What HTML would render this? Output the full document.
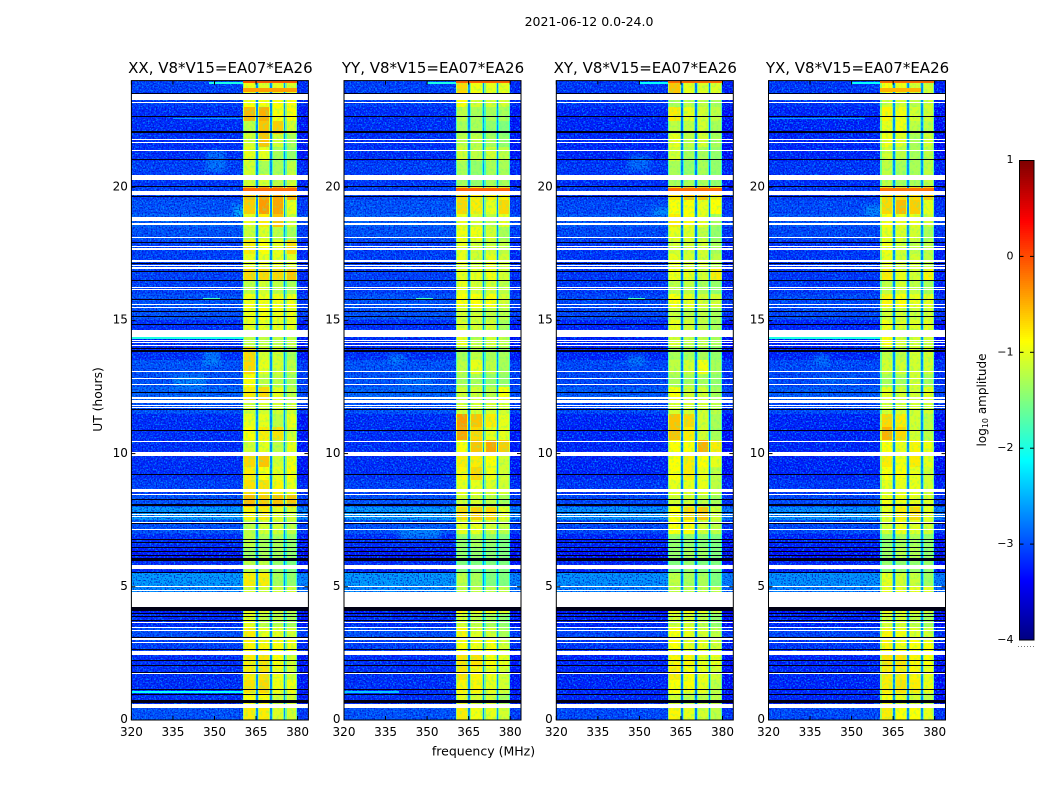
<!DOCTYPE html>
<html>
<head>
<meta charset="utf-8">
<title>2021-06-12 dynamic spectra</title>
<style>
html,body{margin:0;padding:0;background:#fff;}
svg{display:block;}
text{font-family:"DejaVu Sans","Liberation Sans",sans-serif;fill:#000;}
</style>
</head>
<body>
<svg id="chart" xmlns="http://www.w3.org/2000/svg" width="1050" height="800" viewBox="0 0 1050 800">
<defs>
<filter id="speck-light" x="0" y="0" width="1" height="1" color-interpolation-filters="sRGB">
<feTurbulence type="fractalNoise" baseFrequency="0.62" numOctaves="1" seed="7"/>
<feColorMatrix type="matrix" values="0 0 0 0 0  0 0 0 0 0.65  0 0 0 0 1  5 0 0 0 -2.4"/>
</filter>
<filter id="speck-dark" x="0" y="0" width="1" height="1" color-interpolation-filters="sRGB">
<feTurbulence type="fractalNoise" baseFrequency="0.66" numOctaves="1" seed="23"/>
<feColorMatrix type="matrix" values="0 0 0 0 0  0 0 0 0 0.02  0 0 0 0 0.75  5 0 0 0 -2.5"/>
</filter>
<filter id="speck-green" x="0" y="0" width="1" height="1" color-interpolation-filters="sRGB">
<feTurbulence type="fractalNoise" baseFrequency="0.35" numOctaves="2" seed="41"/>
<feColorMatrix type="matrix" values="0 0 0 0 0.3  0 0 0 0 1  0 0 0 0 0.6  5 0 0 0 -2.5"/>
</filter>
<filter id="soft-patch" x="-50%" y="-100%" width="200%" height="300%">
<feGaussianBlur stdDeviation="2.5"/>
</filter>
</defs>
<text x="589" y="26" font-size="12.5" text-anchor="middle">2021-06-12 0.0-24.0</text>
<text x="483.5" y="755.5" font-size="12.5" text-anchor="middle">frequency (MHz)</text>
<text transform="translate(102,399.5) rotate(-90)" font-size="12.3" text-anchor="middle">UT (hours)</text>
<text transform="translate(986,400) rotate(-90)" font-size="12" text-anchor="middle">log<tspan font-size="8" dy="2">10</tspan><tspan dy="-2"> amplitude</tspan></text>
</svg>
<script>
// Panels and axes
const panelTitles = ["XX, V8*V15=EA07*EA26","YY, V8*V15=EA07*EA26","XY, V8*V15=EA07*EA26","YX, V8*V15=EA07*EA26"];
const freqTicks = [320,335,350,365,380];
const hourTicks = [0,5,10,15,20];
const colorbarTicks = [1,0,-1,-2,-3,-4];
// Frequency ranges (MHz) of the four bright sub-bands, channel gaps between them, and the background regions
const subBands = [[360.4,364.9],[365.6,370.1],[370.7,375.1],[375.6,379.9]];
const bandGaps = [[364.9,365.6],[370.1,370.7],[375.1,375.6]];
const backgroundFreq = [[320,360.4],[379.9,383.9]];
const gapLevel = [-2.7,-2.7,-2.8,-2.7];
const shoulderDrop = -0.55;
const shoulderWidth = 0.4;
const bandOffset = -0.08;
const edgeOffset = -0.12;
// Half-hour rows, from 24 h down to 0 h: background level (log10 amplitude)
const backgroundRows = [-3.1,-3.1,-3.2,-3.2,-3.2,-3.2,-3.1,-3.15,-3.1,-3.0,-2.9,-3.0,-3.1,-3.1,-3.1,-3.1,-3.0,-3.0,-3.2,-3.2,-3.2,-3.0,-3.0,-2.9,-3.0,-3.2,-3.2,-3.2,-3.2,-3.2,-3.1,-3.0,-2.6,-3.0,-3.2,-3.3,-3.2,-2.6,-2.7,-3.3,-3.2,-3.0,-3.1,-3.2,-3.2,-3.2,-3.2,-3.0];
const panelBackgroundOffset = [0,0,-0.05,-0.05];
// Half-hour rows: level in each of the four sub-bands
const bandXX = [[-0.85,-0.95,-0.9,-0.95],[-0.8,-0.8,-0.8,-0.8],[-0.45,-0.4,-0.8,-0.8],[-1.1,-0.5,-0.55,-1.0],[-1.0,-0.5,-1,-1.2],[-0.9,-0.9,-1.2,-1.3],[-1,-1.2,-1.2,-1.1],[-1,-1,-1.1,-1],[-0.5,-0.35,-0.35,-0.4],[-0.55,-0.3,-0.35,-0.9],[-0.9,-0.7,-0.5,-1],[-1.05,-0.95,-1.1,-1.2],[-0.7,-0.8,-0.9,-0.6],[-0.9,-0.9,-0.9,-0.95],[-0.6,-0.6,-0.6,-0.5],[-1.1,-1,-1.1,-1.2],[-0.85,-0.85,-0.85,-0.85],[-0.85,-0.8,-0.85,-0.85],[-0.9,-0.9,-0.9,-0.9],[-1.1,-1.1,-1.1,-1.1],[-0.6,-1,-1,-1.2],[-0.6,-0.9,-1,-1.1],[-0.8,-1.1,-1.1,-1.2],[-0.7,-0.6,-0.9,-1.1],[-1,-1,-1,-1],[-0.9,-0.9,-1.1,-0.9],[-0.8,-0.7,-0.65,-1],[-1,-0.9,-1.1,-0.9],[-0.6,-0.5,-1,-0.85],[-0.7,-0.8,-0.9,-0.8],[-0.65,-0.65,-0.75,-0.9],[-0.45,-0.55,-0.5,-0.5],[-0.75,-0.7,-0.9,-1],[-1.1,-1,-1,-1.1],[-1.1,-1.2,-1.2,-1.3],[-1.25,-1.2,-1.2,-1.3],[-1.1,-1.1,-1.3,-1.4],[-0.7,-0.7,-1.2,-1.3],[-1,-1,-1,-1],[-0.9,-0.9,-1,-1.1],[-0.9,-1.1,-1.1,-1.2],[-0.7,-0.9,-0.9,-1],[-0.75,-0.75,-0.8,-0.85],[-0.7,-0.65,-0.8,-1],[-0.7,-0.65,-0.85,-1],[-0.65,-0.6,-0.85,-0.85],[-0.8,-0.8,-1,-1],[-0.7,-0.7,-0.95,-1]];
const bandYY = [[-0.6,-0.85,-0.9,-0.9],[-0.8,-1,-1,-1],[-1.1,-1.2,-1.2,-1.2],[-1.2,-1.2,-1.3,-1.4],[-1.1,-1.1,-1.2,-1.3],[-1.0,-1.1,-1,-1.1],[-1.2,-1.3,-1.2,-1.2],[-1.2,-1.3,-1.2,-1.2],[-0.6,-0.7,-0.7,-0.7],[-0.6,-0.7,-0.9,-0.6],[-0.9,-1,-1.1,-0.9],[-0.85,-0.85,-1,-1.2],[-0.9,-1,-1,-1.1],[-0.9,-1,-0.9,-1],[-0.9,-0.9,-0.85,-1],[-0.9,-1,-1,-1.1],[-0.8,-0.8,-0.8,-1],[-1,-1,-1.1,-1.1],[-0.95,-1,-1,-1.2],[-0.9,-1.1,-1,-1.1],[-1.2,-1.1,-1.2,-1.2],[-1.1,-0.9,-1.1,-1.2],[-1.2,-1.2,-1.3,-1.3],[-1,-1,-1.1,-0.8],[-1,-1,-1,-1],[-0.3,-0.5,-0.7,-0.9],[-0.35,-0.6,-0.9,-0.9],[-0.8,-0.5,-0.35,-0.55],[-0.7,-0.7,-0.8,-1],[-0.75,-0.6,-0.85,-1],[-0.9,-0.9,-0.95,-1],[-1,-1,-1.1,-1.2],[-0.6,-0.55,-0.6,-0.9],[-0.9,-0.9,-1,-1.1],[-1.3,-1.2,-1.3,-1.4],[-1.3,-1.3,-1.35,-1.4],[-1.4,-1.4,-1.4,-1.4],[-1.1,-1.2,-1.4,-1.4],[-1.1,-1.1,-1.1,-1.1],[-0.75,-0.85,-0.85,-0.9],[-1,-1.1,-1.2,-1.3],[-0.75,-0.95,-1,-1.2],[-0.8,-0.85,-0.8,-1],[-0.65,-0.65,-0.8,-0.9],[-0.65,-0.75,-0.85,-1],[-0.75,-0.75,-0.9,-1],[-0.9,-1,-1,-1.2],[-0.7,-0.85,-0.9,-1]];
const bandXY = [[-0.5,-0.9,-0.95,-0.95],[-1.2,-1.1,-1.1,-1.2],[-0.7,-0.9,-1,-1.1],[-1.1,-1.1,-1,-1.2],[-0.9,-1.1,-1,-1.2],[-1,-1.2,-1.2,-1.3],[-1.2,-1.3,-1.2,-1.3],[-1.2,-1.2,-1.2,-1.3],[-0.65,-0.5,-0.5,-0.7],[-0.8,-0.8,-0.9,-0.8],[-0.7,-0.8,-0.9,-1.2],[-0.9,-0.95,-1.1,-1.3],[-1,-1,-1,-1.2],[-0.9,-1,-1,-1.1],[-0.85,-0.9,-1,-0.7],[-1.1,-1.1,-1.2,-1.3],[-0.8,-0.9,-1,-1],[-1.05,-1.1,-1.1,-1.2],[-0.9,-1,-1.1,-1.2],[-1,-1.1,-1.1,-1.2],[-1.2,-1.2,-1.2,-1.3],[-1.1,-1,-0.85,-1.2],[-1.2,-1.2,-1.2,-1.3],[-0.8,-1,-1,-1.2],[-1,-1,-1,-1.1],[-0.5,-0.6,-1,-1.2],[-0.5,-0.7,-1,-1.2],[-0.8,-0.8,-0.4,-0.7],[-0.8,-0.7,-0.8,-0.9],[-0.8,-0.7,-0.9,-1.1],[-0.9,-0.9,-0.9,-1.1],[-1,-1,-1.1,-1.2],[-0.8,-0.6,-0.5,-1],[-0.8,-0.8,-1,-1.1],[-1.3,-1.3,-1.35,-1.4],[-1.3,-1.2,-1.25,-1.4],[-1.4,-1.3,-1.4,-1.4],[-1.1,-1.2,-1.2,-1.4],[-1.1,-1.1,-1.1,-1.1],[-0.8,-0.8,-0.9,-1],[-1,-1,-1.1,-1.3],[-0.8,-0.9,-1,-1.1],[-0.8,-0.9,-0.9,-1],[-0.75,-0.75,-0.9,-0.9],[-0.7,-0.8,-0.9,-1],[-0.8,-0.8,-0.9,-1.1],[-1,-1.1,-1.1,-1.1],[-0.75,-0.9,-1,-1.1]];
const bandYX = [[-0.8,-0.85,-1,-1],[-1,-1,-1.1,-1],[-0.75,-0.85,-1,-1],[-0.9,-0.85,-1.1,-1.1],[-0.85,-0.95,-1.2,-1],[-1,-1.1,-1.2,-1.1],[-1.1,-1.2,-1.2,-1.1],[-1.1,-1.2,-1.2,-1.1],[-0.6,-0.6,-0.6,-0.55],[-0.6,-0.45,-0.55,-0.9],[-0.8,-0.9,-0.9,-1],[-0.9,-0.95,-1,-1.2],[-0.85,-1,-1.1,-1.1],[-0.9,-1,-1,-1.1],[-0.7,-0.9,-1,-0.75],[-1.1,-1,-1.1,-1.2],[-0.75,-0.8,-0.9,-0.9],[-1,-1,-1.05,-1],[-0.85,-0.95,-0.95,-0.9],[-0.8,-1,-1,-1],[-1.1,-1.1,-1,-1],[-1,-1,-1,-1],[-1.2,-1.2,-1,-1.2],[-0.9,-1,-1,-0.9],[-1,-1,-1,-1],[-0.6,-0.7,-1,-1.1],[-0.4,-0.6,-1,-1.1],[-0.8,-0.9,-0.75,-0.85],[-0.7,-0.85,-0.7,-0.9],[-0.8,-0.8,-0.9,-1],[-0.9,-0.9,-0.9,-1],[-0.85,-0.85,-0.9,-0.95],[-0.9,-0.7,-0.6,-0.9],[-1,-0.85,-0.95,-1],[-1.3,-1.2,-1.2,-1.3],[-1.25,-1.15,-1.15,-1.3],[-1.3,-1.3,-1.3,-1.3],[-0.9,-1,-1.05,-1.25],[-0.9,-0.9,-0.9,-0.9],[-0.85,-0.85,-0.95,-1],[-1,-1,-1.1,-1.2],[-0.75,-0.85,-0.95,-1],[-0.75,-0.85,-0.8,-0.8],[-0.65,-0.65,-0.75,-0.8],[-0.7,-0.7,-0.75,-0.9],[-0.7,-0.65,-0.7,-0.85],[-0.8,-0.9,-1,-1.1],[-0.7,-0.8,-0.8,-0.9]];
const bandLevels = [bandXX,bandYY,bandXY,bandYX];
// Localised brighter features: panel, hour-high, hour-low, MHz-low, MHz-high, level
const brightPatches = [
[0,12.95,12.45,335,347,-2.65],[0,21.35,20.6,347,354,-2.75],[0,19.3,18.85,357,361,-2.35],[0,13.85,13.3,346,352,-2.7],
[1,13.75,13.35,336,342,-2.75],[1,7.2,6.8,340,355,-2.65],[1,12.9,12.5,340,352,-2.8],
[2,13.7,13.3,346,352,-2.75],[2,21.2,20.6,346,354,-2.8],[2,19.2,18.9,355,361,-2.55],
[3,13.7,13.3,336,342,-2.8],[3,19.3,18.9,355,361,-2.6],[3,12.9,12.6,338,352,-2.85]];
// Narrow bright lines: panel, hour-high, hour-low, MHz-low, MHz-high, level
const brightLines = [
[0,24,23.9,360.4,379.9,-0.05],[1,24,23.9,360.4,379.9,-0.1],[2,24,23.9,360.4,379.9,-0.15],[3,24,23.9,360.4,379.9,-0.15],
[0,23.93,23.86,348,360.4,-2.0],[1,23.93,23.86,350,360.4,-2.0],[2,23.93,23.86,350,360.4,-2.1],[3,23.93,23.86,350,360.4,-2.1],
[0,23.72,23.58,360.4,379.9,-0.4],[3,23.72,23.58,360.4,375,-0.5],
[0,14.36,14.31,320,360.4,-2.0],[0,1.07,1.03,320,360.4,-2.1],[0,22.58,22.54,335,360,-2.6],[3,14.36,14.31,320,360.4,-2.0],[3,22.58,22.54,320,355,-2.6],
[1,1.07,1.03,320,340,-2.4],[2,15.85,15.8,346,352,-1.8],[0,15.85,15.8,346,352,-1.8],[1,15.85,15.8,346,352,-1.8],
[0,19.95,19.72,360.4,379.9,-0.15],[1,19.95,19.8,360.4,379.9,-0.1],[2,19.95,19.8,360.4,379.9,-0.15],[3,19.95,19.8,360.4,379.9,-0.2],
[1,10.9,10.86,360.4,365,-0.1],[3,3.1,3.06,360.4,380,-0.2],[0,3.1,3.06,360.4,380,-0.15]];
// Flagged rows with no data, in hours: high edge, low edge
const whiteRows = [[23.5,23.27],[23.21,23.16],[21.81,21.77],[21.71,21.68],[21.38,21.34],[20.46,20.27],[19.87,19.71],[18.88,18.73],[18.64,18.58],[18.13,18.09],[17.81,17.78],[17.72,17.66],[17.26,17.19],[17.09,17.04],[16.99,16.93],[16.27,16.24],[16.16,16.13],[15.6,15.57],[15.5,15.47],[14.64,14.38],[14.28,14.25],[14.17,14.14],[14.08,14.04],[13.1,13.06],[12.85,12.82],[12.6,12.57],[12.12,12.06],[12,11.89],[11.82,11.79],[11.74,11.7],[10.47,10.44],[10.06,9.91],[8.66,8.57],[8.49,8.45],[7.73,7.7],[7.66,7.61],[7.43,7.39],[7.17,7.13],[5.82,5.67],[5.02,4.98],[4.88,4.84],[4.8,4.24],[3.67,3.63],[3.48,3.45],[3.38,3.34],[3.06,3],[2.93,2.89],[2.6,2.44],[1.76,1.73],[0.6,0.45]];
// Very low amplitude rows, in hours: centre, thickness
const blackRows = [[23.52,0.04],[22.65,0.05],[22.07,0.05],[21.04,0.05],[20.02,0.05],[19.64,0.04],[17.92,0.04],[17.12,0.04],[16.82,0.04],[16.5,0.04],[15.8,0.04],[15.34,0.04],[15.14,0.04],[14.83,0.04],[13.96,0.04],[13.85,0.04],[12.3,0.04],[11.66,0.04],[10.85,0.04],[9.23,0.04],[8.26,0.04],[8.07,0.04],[7.78,0.04],[7.36,0.04],[6.79,0.04],[6.66,0.04],[6.49,0.04],[6.33,0.04],[6.19,0.04],[6.03,0.12],[5.54,0.04],[4.17,0.13],[4.01,0.04],[3.9,0.04],[3.75,0.04],[3.1,0.04],[2.63,0.04],[2.23,0.04],[2.03,0.04],[1.8,0.04],[1.14,0.04],[0.94,0.04],[0.69,0.13]];

const SVGNS = "http://www.w3.org/2000/svg";
const svg = document.getElementById("chart");
const panelLeft = [131.4,344,556.3,768.5];
const panelWidth = 177;
const axisTop = 80.6, axisBottom = 720;
const hoursPerRow = 0.5;

function yScale(hour){ return axisBottom - hour*(axisBottom-axisTop)/24; }
function xScale(panel,mhz){ return panelLeft[panel] + (mhz-320)*2.77; }
function clamp01(v){ return Math.max(0,Math.min(1,v)); }
function jet(level){
  const t = clamp01((level+4)/5);
  const r = clamp01(1.5-Math.abs(4*t-3));
  const g = clamp01(1.5-Math.abs(4*t-2));
  const b = clamp01(1.5-Math.abs(4*t-1));
  return "rgb("+Math.round(r*255)+","+Math.round(g*255)+","+Math.round(b*255)+")";
}
function mk(parent,tag,attrs){
  const el = document.createElementNS(SVGNS,tag);
  for(const k in attrs){ el.setAttribute(k,attrs[k]); }
  parent.appendChild(el);
  return el;
}
function block(group,panel,hi,lo,fa,fb,fill){
  const x0 = Math.round(xScale(panel,fa)), x1 = Math.round(xScale(panel,fb));
  const y0 = Math.round(yScale(hi)), y1 = Math.round(yScale(lo));
  return mk(group,"rect",{x:x0,y:y0,width:Math.max(1,x1-x0),height:Math.max(1,y1-y0),fill:fill,"shape-rendering":"crispEdges"});
}

panelTitles.forEach(function(title,p){
  const g = mk(svg,"g",{});
  
  

  const heat = mk(g,"g",{});
  
  

  backgroundRows.forEach(function(level,i){
    const hi = 24-i*hoursPerRow, lo = hi-hoursPerRow;
    const v = level+panelBackgroundOffset[p];
    const left = block(heat,p,hi,lo,backgroundFreq[0][0],backgroundFreq[0][1],jet(v));
    
    
    const right = block(heat,p,hi,lo,backgroundFreq[1][0],backgroundFreq[1][1],jet(v+edgeOffset));
    
    
  });
  brightPatches.filter(function(d){return d[0]===p;}).forEach(function(d){
    const patch = block(heat,p,d[1],d[2],d[3],d[4],jet(d[5]));
    
    
    patch.setAttribute('opacity','0.8');
    patch.setAttribute('filter','url(#soft-patch)');
  });

  const speckA = mk(heat,"rect",{x:panelLeft[p],y:axisTop,width:panelWidth,height:axisBottom-axisTop,filter:"url(#speck-light)",opacity:"0.7"});
  
  
  const speckB = mk(heat,"rect",{x:panelLeft[p],y:axisTop,width:panelWidth,height:axisBottom-axisTop,filter:"url(#speck-dark)",opacity:"0.7"});
  
  

  bandLevels[p].forEach(function(row,i){
    const hi = 24-i*hoursPerRow, lo = hi-hoursPerRow;
    row.forEach(function(level,b){
      const v = level+bandOffset;
      const cell = block(heat,p,hi,lo,subBands[b][0],subBands[b][1],jet(v));
      
      
      const shoulderA = block(heat,p,hi,lo,subBands[b][0],subBands[b][0]+shoulderWidth,jet(v+shoulderDrop));
      
      
      const shoulderB = block(heat,p,hi,lo,subBands[b][1]-shoulderWidth,subBands[b][1],jet(v+shoulderDrop));
      
      
    });
    bandGaps.forEach(function(gap){
      const gapCell = block(heat,p,hi,lo,gap[0],gap[1],jet(gapLevel[p]));
      
      
    });
  });
  const bandX0 = Math.round(xScale(p,subBands[0][0])), bandX1 = Math.round(xScale(p,subBands[3][1]));
  const speckC = mk(heat,"rect",{x:bandX0,y:axisTop,width:bandX1-bandX0,height:axisBottom-axisTop,filter:"url(#speck-green)",opacity:"0.3"});
  
  
  brightLines.filter(function(d){return d[0]===p;}).forEach(function(d){
    const line = block(heat,p,d[1],d[2],d[3],d[4],jet(d[5]));
    
    
  });
  whiteRows.forEach(function(d){
    const row = block(heat,p,d[0],d[1],320,383.9,"#fff");
    
    
  });
  blackRows.forEach(function(d){
    const row = block(heat,p,d[0]+d[1]/2,d[0]-d[1]/2,320,383.9,"#000014");
    
    
  });

  const frame = mk(g,"rect",{x:panelLeft[p],y:axisTop,width:panelWidth,height:axisBottom-axisTop,fill:"none",stroke:"#000","stroke-width":"1"});
  
  

  const ttl = mk(g,"text",{x:panelLeft[p]+panelWidth/2+0.5,y:73,"font-size":"15","text-anchor":"middle"});
  ttl.textContent = title;
  
  

  freqTicks.forEach(function(f){
    const x = xScale(p,f);
    const tb = mk(g,"line",{x1:x,x2:x,y1:axisBottom,y2:axisBottom-4,stroke:"#000","stroke-width":"1"});
    
    
    const tt = mk(g,"line",{x1:x,x2:x,y1:axisTop,y2:axisTop+4,stroke:"#000","stroke-width":"1"});
    
    
    const lab = mk(g,"text",{x:x,y:736,"font-size":"12","text-anchor":"middle"});
    lab.textContent = f;
    
    
  });
  hourTicks.forEach(function(h){
    const y = yScale(h);
    const tl = mk(g,"line",{x1:panelLeft[p],x2:panelLeft[p]+4,y1:y,y2:y,stroke:"#000","stroke-width":"1"});
    
    
    const tr = mk(g,"line",{x1:panelLeft[p]+panelWidth,x2:panelLeft[p]+panelWidth-4,y1:y,y2:y,stroke:"#000","stroke-width":"1"});
    
    
    const lab = mk(g,"text",{x:panelLeft[p]-3.5,y:y+3.2,"font-size":"12","text-anchor":"end"});
    lab.textContent = h;
    
    
  });
});

// Colorbar
const cbLeft = 1019.5, cbRight = 1034, cbTop = 160.5, cbBottom = 640;
function cbScale(level){ return cbBottom-(level+4)*(cbBottom-cbTop)/5; }
const cb = mk(svg,"g",{});


const cbSteps = 240;
for(let i=0;i<cbSteps;i++){
  const a = -4+5*i/cbSteps, b = -4+5*(i+1)/cbSteps;
  const seg = mk(cb,"rect",{x:cbLeft,y:cbScale(b),width:cbRight-cbLeft,height:cbScale(a)-cbScale(b)+0.5,fill:jet((a+b)/2),"shape-rendering":"crispEdges"});
  
  
}
const cbFrame = mk(cb,"rect",{x:cbLeft,y:cbTop,width:cbRight-cbLeft,height:cbBottom-cbTop,fill:"none",stroke:"#000","stroke-width":"1"});


colorbarTicks.forEach(function(level){
  const y = cbScale(level);
  const t1 = mk(cb,"line",{x1:cbLeft,x2:cbLeft+4,y1:y,y2:y,stroke:"#000","stroke-width":"1"});
  
  
  const t2 = mk(cb,"line",{x1:cbRight,x2:cbRight-4,y1:y,y2:y,stroke:"#000","stroke-width":"1"});
  
  
  const lab = mk(cb,"text",{x:1013.5,y:y+(level===1?2.5:level===-4?3:3),"font-size":"11","text-anchor":"end"});
  lab.textContent = level<0 ? "\u2212"+(-level) : String(level);
  
  
});
const dots = mk(cb,"line",{x1:1018,x2:1035,y1:646.5,y2:646.5,stroke:"#777","stroke-width":"1","stroke-dasharray":"1 2"});


</script>
</body>
</html>
